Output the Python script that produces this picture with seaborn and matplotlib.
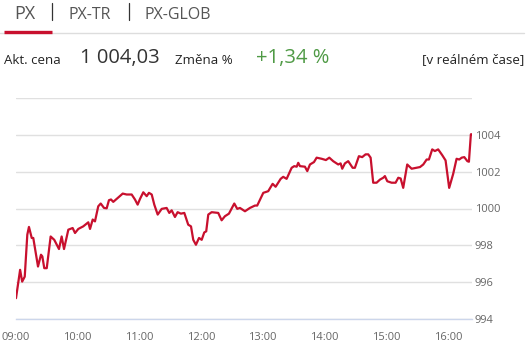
import matplotlib
matplotlib.use("Agg")
import matplotlib.pyplot as plt
import seaborn as sns
import pandas as pd
from matplotlib.lines import Line2D

# minutes after 09:00
minutes = [0, 4, 6, 8.5, 11, 12.6, 15.3, 16.8, 21.4, 24.3, 25.6, 27.5, 29.9, 33.7, 37.2,
           41.8, 44.4, 46.7, 50.9, 55.1, 57.4, 60.6, 65.4, 70.3, 72, 74.6, 76.8, 80, 82.4,
           85.6, 88.2, 90.4, 92.4, 94.6, 97.9, 103.8, 107.6, 112.5, 115.7, 118.3, 120.6,
           123.8, 127.1, 129.3, 132, 134.5, 137.8, 141.7, 146.5, 149.1, 151.4, 154.6, 157.2,
           160.4, 163.7, 167.5, 170.2, 172.4, 175, 178, 180.6, 183.1, 185, 187, 190.3, 196.7,
           200, 203.2, 207.1, 212.3, 215.2, 217.8, 222.7, 227.5, 232.4, 234.6, 240.5, 245.3,
           249.6, 252.5, 257.4, 259.9, 263.2, 268.1, 270.6, 273, 274.5, 276.2, 281, 283.3,
           285.9, 289.8, 292.4, 297.3, 301.4, 304.7, 308.5, 313.4, 315.7, 317.3, 319.9, 323.1,
           327.4, 329.6, 333.5, 336.7, 340, 342.6, 344.9, 347.4, 350.7, 354, 357.2, 358.8,
           361.1, 365.3, 369.2, 371.8, 374.1, 376.6, 380.5, 384.8, 389.6, 392.9, 396.1, 399.4,
           401.6, 404.8, 407.4, 410.6, 414.5, 417.8, 421.3, 425.2, 428.5, 431.1, 433.5, 436,
           439, 440.5, 442.4, 443.7]
values = [995.13, 996.67, 996.03, 996.30, 998.58, 999.00, 998.40, 998.40, 996.85, 997.49,
          997.40, 996.76, 996.76, 998.48, 998.30, 997.80, 998.48, 997.80, 998.85, 998.94,
          998.67, 998.89, 999.03, 999.25, 998.89, 999.40, 999.30, 1000.12, 1000.27, 1000.03,
          1000.01, 1000.45, 1000.49, 1000.36, 1000.52, 1000.81, 1000.76, 1000.76, 1000.49,
          1000.21, 1000.52, 1000.88, 1000.67, 1000.85, 1000.76, 1000.21, 999.67, 999.98,
          1000.03, 999.76, 999.90, 999.54, 999.80, 999.72, 999.76, 999.12, 999.03, 998.30,
          998.03, 998.40, 998.30, 998.70, 998.76, 999.67, 999.80, 999.76, 999.36, 999.58,
          999.72, 1000.27, 999.98, 1000.03, 999.85, 1000.03, 1000.16, 1000.16, 1000.85,
          1000.94, 1001.34, 1001.18, 1001.61, 1001.72, 1001.61, 1002.21, 1002.30, 1002.27,
          1002.48, 1002.30, 1002.27, 1002.03, 1002.39, 1002.52, 1002.76, 1002.70, 1002.63,
          1002.76, 1002.57, 1002.39, 1002.45, 1002.16, 1002.45, 1002.57, 1002.21, 1002.21,
          1002.84, 1002.79, 1002.94, 1002.94, 1002.76, 1001.40, 1001.40, 1001.57, 1001.67,
          1001.76, 1001.48, 1001.40, 1001.40, 1001.67, 1001.63, 1001.12, 1002.39, 1002.16,
          1002.21, 1002.25, 1002.39, 1002.66, 1002.66, 1003.21, 1003.12, 1003.21, 1002.90,
          1002.61, 1001.12, 1001.88, 1002.70, 1002.66, 1002.76, 1002.79, 1002.57, 1002.54,
          1004.03, 1004.03]

tick_minutes = [0, 60, 120, 180, 240, 300, 360, 420]
tick_labels = ["09:00", "10:00", "11:00", "12:00", "13:00", "14:00", "15:00", "16:00"]
y_ticks = [994, 996, 998, 1000, 1002, 1004, 1006]
y_labels = ["994", "996", "998", "1000", "1002", "1004", ""]

tabs = ["PX", "PX-TR", "PX-GLOB"]
price_label = "Akt. cena"
price = "1 004,03"
change_label = "Změna %"
change = "+1,34 %"
realtime = "[v reálném čase]"

sns.set_theme(style="white")
plt.rcParams['font.family'] = ['Open Sans', 'DejaVu Sans']

W, H = 528, 345
fig = plt.figure(figsize=(W / 100, H / 100), dpi=100)
ax = fig.add_axes([16 / W, 1 - 319 / H, (472 - 16) / W, (319 - 98) / H])

df = pd.DataFrame({"t": minutes, "v": values})
sns.lineplot(data=df, x="t", y="v", ax=ax, color="#c8102e", linewidth=1.6)

ax.set_xlim(0, 443.5)
ax.set_ylim(994, 1006)
ax.set_xlabel("")
ax.set_ylabel("")
ax.set_yticks(y_ticks)
ax.set_yticklabels(y_labels)
ax.yaxis.tick_right()
ax.tick_params(axis="y", length=0, pad=2, labelsize=8, labelcolor="#666666")
ax.set_xticks(tick_minutes)
ax.set_xticklabels(tick_labels)
ax.tick_params(axis="x", length=7, width=1, color="#ccd6eb", pad=2,
               labelsize=8, labelcolor="#666666", direction="out")
ax.grid(axis="y", color="#e0e0e0", linewidth=1)
ax.grid(axis="x", visible=False)
for s in ["top", "left", "right"]:
    ax.spines[s].set_visible(False)
ax.spines["bottom"].set_color("#ccd6eb")
ax.spines["bottom"].set_linewidth(1)
ax.set_axisbelow(True)

def px(x, y):
    return x / W, 1 - y / H

# header tabs
fig.text(*px(14, 14), tabs[0], fontsize=13, color="#555555", va="center", ha="left")
fig.text(*px(68, 15), tabs[1], fontsize=11.5, color="#555555", va="center", ha="left")
fig.text(*px(145, 15), tabs[2], fontsize=11.5, color="#555555", va="center", ha="left")
fig.add_artist(Line2D([52 / W, 52 / W], [1 - 3 / H, 1 - 20 / H], color="#333333", lw=0.9))
fig.add_artist(Line2D([129 / W, 129 / W], [1 - 3 / H, 1 - 20 / H], color="#333333", lw=0.9))
fig.add_artist(Line2D([0, 524 / W], [1 - 33 / H, 1 - 33 / H], color="#dddddd", lw=1))
fig.add_artist(Line2D([4 / W, 52 / W], [1 - 31.5 / H, 1 - 31.5 / H], color="#c8102e", lw=2.4,
                      solid_capstyle="butt"))

# price row
fig.text(*px(4, 60), price_label, fontsize=9.5, color="#222222", va="center", ha="left")
fig.text(*px(80, 58), price, fontsize=14.5, color="#333333", va="center", ha="left")
fig.text(*px(175, 60), change_label, fontsize=9.5, color="#222222", va="center", ha="left")
fig.text(*px(256, 58), change, fontsize=14.5, color="#4f9a45", va="center", ha="left")
fig.text(*px(524, 60), realtime, fontsize=9.5, color="#222222", va="center", ha="right")

fig.savefig("out.png", dpi=100)
